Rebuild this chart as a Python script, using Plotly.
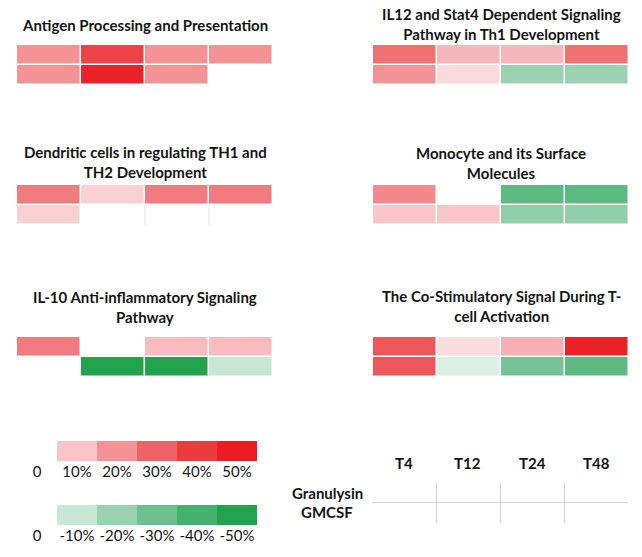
import plotly.graph_objects as go

W, H = 642, 557

# ---------------- data ----------------
time_points = ["T4", "T12", "T24", "T48"]
genes = ["Granulysin", "GMCSF"]

titles = [
    "Antigen Processing and Presentation",
    "IL12 and Stat4 Dependent Signaling<br>Pathway in Th1 Development",
    "Dendritic cells in regulating TH1 and<br>TH2 Development",
    "Monocyte and its Surface<br>Molecules",
    "IL-10 Anti-inflammatory Signaling<br>Pathway",
    "The Co-Stimulatory Signal During T-<br>cell Activation",
]

# % change, rows = Granulysin, GMCSF ; columns = T4, T12, T24, T48
antigen = [[20, 38, 20, 20], [20, 48, 20, None]]
il12 = [[27, 13, 13, 27], [20, 6, -20, -20]]
dendritic = [[25, 8, 25, 25], [8, None, None, None]]
monocyte = [[22, None, -34, -34], [10, 10, -22, -22]]
il10 = [[25, None, 12, 12], [None, -50, -50, -10]]
costim = [[33, 6, 14, 48], [33, -6, -28, -34]]
panel_values = [antigen, il12, dendritic, monocyte, il10, costim]

legend_pos_vals = [10, 20, 30, 40, 50]
legend_neg_vals = [-10, -20, -30, -40, -50]
legend_pos_text = ["0", "10%", "20%", "30%", "40%", "50%"]
legend_neg_text = ["0", "-10%", "-20%", "-30%", "-40%", "-50%"]

# colour scale (value -> colour)
scale_vals = [-50, -40, -30, -20, -10, 0, 10, 20, 30, 40, 50]
scale_cols = ["#23A24D", "#44B06D", "#6DC08E", "#9AD2B1", "#C7E6D4", "#FFFFFF",
              "#F9C5C8", "#F39396", "#EF6366", "#EC3B3E", "#ED1C24"]

# ---------------- layout helpers ----------------
def px_x(v):
    return v / W

def px_y(v):
    return 1 - v / H

colorscale = [[(v + 50) / 100, c] for v, c in zip(scale_vals, scale_cols)]

FONT = "Lato"
TXT = "#141414"
TSIZE = 15

# panel boxes (left, right, top, bottom) in pixels and title centre y
boxes = [
    (17, 273, 45, 85, 25),
    (373, 629, 45, 85, 24.5),
    (17, 273, 185, 225, 162),
    (373, 629, 185, 225, 162.5),
    (17, 273, 337, 377, 306.5),
    (373, 629, 337, 377, 305.5),
]

fig = go.Figure()
layout = {}
annotations = []
shapes = []

for i, (vals, title, box) in enumerate(zip(panel_values, titles, boxes), start=1):
    l, r, t, b, ty = box
    xa = "x" if i == 1 else f"x{i}"
    ya = "y" if i == 1 else f"y{i}"
    fig.add_trace(go.Heatmap(
        z=vals, x=[1, 2, 3, 4], y=[1, 2],
        colorscale=colorscale, zmin=-50, zmax=50, showscale=False,
        xgap=1.5, ygap=1.5, hoverongaps=False,
        xaxis=xa, yaxis=ya,
    ))
    key = "" if i == 1 else str(i)
    layout["xaxis" + key] = dict(domain=[px_x(l), px_x(r)], range=[0.5, 4.5],
                                 visible=False, anchor=ya, fixedrange=True)
    layout["yaxis" + key] = dict(domain=[px_y(b), px_y(t)], range=[2.5, 0.5],
                                 visible=False, anchor=xa, fixedrange=True)
    annotations.append(dict(
        text=f"<b>{title}</b>", x=px_x((l + r) / 2), y=px_y(ty),
        xref="paper", yref="paper", showarrow=False, xanchor="center",
        yanchor="middle", align="center",
        font=dict(family=FONT, size=TSIZE, color=TXT),
    ))

# faint grid lines in the empty cells of the dendritic panel
for xv in [2.5, 3.5]:
    shapes.append(dict(type="line", xref="x3", yref="y3", x0=xv, x1=xv,
                       y0=1.55, y1=2.5, line=dict(color="#E2E2E2", width=1)))

# ---------------- key panel (T4..T48 / Granulysin, GMCSF) ----------------
fig.add_trace(go.Scatter(x=[None], y=[None], xaxis="x7", yaxis="y7",
                         showlegend=False, hoverinfo="skip"))
layout["xaxis7"] = dict(domain=[px_x(372), px_x(628)], range=[0.5, 4.5],
                        tickvals=[1.5, 2.5, 3.5], showticklabels=False,
                        showgrid=True, gridcolor="#D4D4D4", gridwidth=1.2,
                        zeroline=False, showline=False, ticks="",
                        anchor="y7", fixedrange=True)
layout["yaxis7"] = dict(domain=[px_y(522), px_y(483)], range=[2.5, 0.5],
                        tickvals=[1.5], showticklabels=False,
                        showgrid=True, gridcolor="#D4D4D4", gridwidth=1.2,
                        zeroline=False, showline=False, ticks="",
                        anchor="x7", fixedrange=True)
for j, tp in enumerate(time_points, start=1):
    annotations.append(dict(text=f"<b>{tp}</b>", x=j, y=px_y(463),
                            xref="x7", yref="paper", showarrow=False,
                            xanchor="center", yanchor="middle",
                            font=dict(family=FONT, size=TSIZE, color=TXT)))
for k, g in enumerate(genes, start=1):
    annotations.append(dict(text=f"<b>{g}</b>", x=px_x(327), y=k,
                            xref="paper", yref="y7", showarrow=False,
                            xanchor="center", yanchor="middle",
                            font=dict(family=FONT, size=TSIZE, color=TXT)))

# ---------------- colour legends ----------------
for n, (vals, texts, top, bot) in enumerate([
        (legend_pos_vals, legend_pos_text, 441, 461),
        (legend_neg_vals, legend_neg_text, 505, 525)], start=8):
    fig.add_trace(go.Heatmap(
        z=[vals], x=[1, 2, 3, 4, 5], y=[0],
        colorscale=colorscale, zmin=-50, zmax=50, showscale=False,
        xgap=0, ygap=0, xaxis=f"x{n}", yaxis=f"y{n}", hoverinfo="skip",
    ))
    layout[f"xaxis{n}"] = dict(domain=[px_x(17), px_x(257)], range=[-0.5, 5.5],
                               tickvals=[0, 1, 2, 3, 4, 5], ticktext=texts,
                               showgrid=False, zeroline=False, showline=False,
                               ticks="", ticklen=0,
                               tickfont=dict(family=FONT, size=TSIZE, color=TXT),
                               anchor=f"y{n}", fixedrange=True)
    layout[f"yaxis{n}"] = dict(domain=[px_y(bot), px_y(top)], range=[-0.5, 0.5],
                               visible=False, anchor=f"x{n}", fixedrange=True)

fig.update_layout(
    width=W, height=H,
    margin=dict(l=0, r=0, t=0, b=0),
    paper_bgcolor="white", plot_bgcolor="white",
    showlegend=False,
    annotations=annotations,
    shapes=shapes,
    **layout,
)

fig.write_html("out.html", config={"displayModeBar": False},
               post_script="document.body.style.margin='0';")
